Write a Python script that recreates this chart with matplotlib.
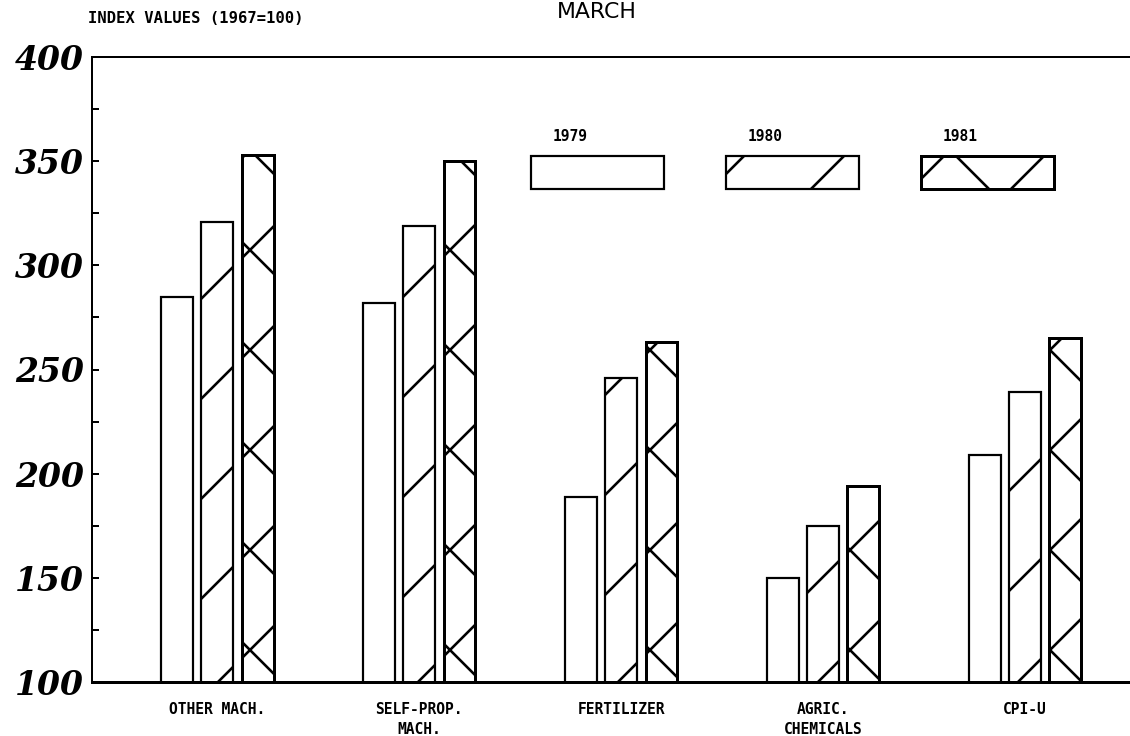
import numpy as np
import matplotlib
matplotlib.use("Agg")
import matplotlib.pyplot as plt
from matplotlib.patches import Rectangle

# data (index values, 1967=100), March
categories = ["OTHER MACH.", "SELF-PROP.\nMACH.", "FERTILIZER", "AGRIC.\nCHEMICALS", "CPI-U"]
years = ["1979", "1980", "1981"]
v1979 = [285, 282, 189, 150, 209]
v1980 = [321, 319, 246, 175, 239]
v1981 = [353, 350, 263, 194, 265]
yticks = [100, 150, 200, 250, 300, 350, 400]

# high dpi so the default hatch density gives wide spacing like the plotter
DPI = 300
W, H = 1130, 736


def pt(px):
    # pixels -> points at this dpi
    return px * 72.0 / DPI


plt.rcParams["hatch.linewidth"] = pt(2.6)
plt.rcParams["hatch.color"] = "black"

fig = plt.figure(figsize=(W / DPI, H / DPI), dpi=DPI)
fig.patch.set_facecolor("white")
ax = fig.add_axes([92 / W, (H - 682) / H, (W - 92) / W, (682 - 57) / H])

x = np.arange(len(categories))
width = 0.158
step = 0.2
series = [v1979, v1980, v1981]
hatches = ["", "/", "x"]
edge_lw = [pt(2.2), pt(2.2), pt(3.0)]
for i, vals in enumerate(series):
    ax.bar(x + (i - 1) * step, vals, width, facecolor="white", edgecolor="black",
           hatch=hatches[i], linewidth=edge_lw[i], zorder=2)

# legend boxes inside the plot
lx0, lw, lgap = 1.554, 0.658, 0.965
for i, yr in enumerate(years):
    ax.add_patch(Rectangle((lx0 + i * lgap, 336.7), lw, 15.8, facecolor="white",
                           edgecolor="black", hatch=hatches[i], linewidth=edge_lw[i],
                           zorder=3))
    ax.text(lx0 + i * lgap + 0.194, 361.6, yr, ha="center", va="center",
            family="DejaVu Sans Mono", weight="bold", fontsize=pt(14.6))

ax.set_xlim(-0.62, 4.52)
ax.set_ylim(100, 400)

ax.set_xticks(x)
ax.set_xticklabels(categories, family="DejaVu Sans Mono", weight="bold",
                   fontsize=pt(14.6), linespacing=1.4)
ax.tick_params(axis="x", length=0, pad=pt(20))

ax.set_yticks(yticks)
ax.set_yticklabels([str(v) for v in yticks], family="DejaVu Serif", style="italic",
                   weight="bold", fontsize=pt(33))
ax.set_yticks(np.arange(125, 400, 50), minor=True)
ax.tick_params(axis="y", which="both", direction="in", length=pt(7), width=pt(2),
               pad=pt(8))

ax.spines["right"].set_visible(False)
ax.spines["left"].set_linewidth(pt(2))
ax.spines["top"].set_linewidth(pt(2))
ax.spines["bottom"].set_linewidth(pt(3))

fig.text(597 / W, 1 - 12 / H, "MARCH", ha="center", va="center",
         family="DejaVu Sans", fontsize=pt(22))
fig.text(88 / W, 1 - 18.5 / H, "INDEX VALUES (1967=100)", ha="left", va="center",
         family="DejaVu Sans Mono", weight="bold", fontsize=pt(15.5))

fig.savefig("out.png", dpi=DPI)
